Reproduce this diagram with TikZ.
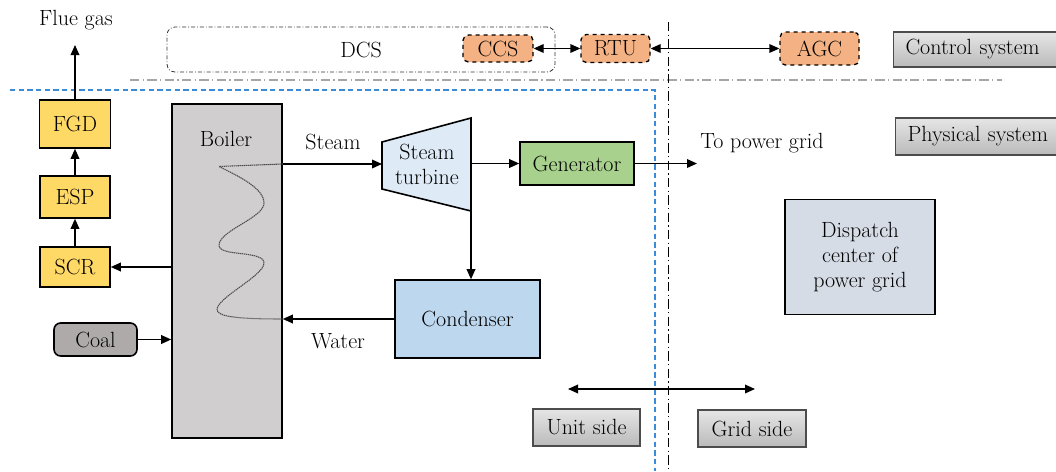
\documentclass[tikz,border=0pt]{standalone}
\usetikzlibrary{arrows.meta}
\definecolor{ylw}{HTML}{FFD966}
\definecolor{boilgray}{HTML}{D0CECE}
\definecolor{turbblue}{HTML}{DEEBF7}
\definecolor{gengreen}{HTML}{A9D18E}
\definecolor{condblue}{HTML}{BDD7EE}
\definecolor{dispgray}{HTML}{D6DCE5}
\definecolor{coalgray}{HTML}{AEAAAA}
\definecolor{orng}{HTML}{F4B183}
\definecolor{sepblue}{HTML}{3A8BD8}
\begin{document}
\begin{tikzpicture}[x=0.75pt,y=-0.75pt,
  font=\fontsize{16.5}{18.7}\selectfont,
  sz/.style 2 args={minimum width=#1*0.75pt, minimum height=#2*0.75pt},
  box/.style={draw=black, line width=1.2pt, inner sep=0pt, align=center},
  ybox/.style={box, fill=ylw},
  ctlbox/.style={draw=black, line width=1pt, dashed, rounded corners=4pt,
    fill=orng, inner sep=0pt},
  tag/.style={draw=black!70, line width=0.8pt, top color=black!10,
    bottom color=black!27, inner sep=0pt},
  arr/.style={line width=1pt, -{Triangle[length=7.5pt,width=6.5pt]}},
  darr/.style={line width=1pt, {Triangle[length=7.5pt,width=6.5pt]}-{Triangle[length=7.5pt,width=6.5pt]}},
  dashdotline/.style={line width=0.6pt, dash pattern=on 7pt off 2.5pt on 1pt off 2.5pt},
  coil/.style={draw=black!70, line width=0.8pt, dash pattern=on 1pt off 0.5pt}]
\useasboundingbox (0,0) rectangle (1056,471);

% system boundaries
\coordinate (sepL) at (130,80);
\coordinate (sepR) at (1002,80);
\draw[dashdotline, black!35, line width=0.8pt] (sepL) -- (sepR);
\coordinate (bA) at (10,90);
\coordinate (bB) at (655,90);
\coordinate (bC) at (655,471);
\draw[sepblue, line width=0.8pt, dash pattern=on 4pt off 2.5pt] (bA) -- (bB) -- (bC);
\coordinate (vT) at (668,22);
\coordinate (vB) at (668,471);
\draw[dashdotline, black] (vT) -- (vB);

% control layer
\node[draw=black!80, line width=0.6pt, rounded corners=6pt,
  dash pattern=on 3pt off 1.5pt on 0.6pt off 1.5pt, sz={388}{45}] (dcs) at (361,49.5) {DCS};
\node[ctlbox, sz={70}{27}] (ccs) at (498,48.5) {CCS};
\node[ctlbox, sz={69}{28}] (rtu) at (615.5,48.5) {RTU};
\node[ctlbox, sz={79}{33}] (agc) at (819.5,48.5) {AGC};
\draw[darr] (ccs) -- (rtu);
\draw[darr] (rtu) -- (agc);

\node[tag, anchor=west, sz={170}{35}, text width=146*0.75pt, align=left,
  inner xsep=12*0.75pt] (ctrl) at (893,49.5) {Control system};
\node[tag, anchor=west, sz={170}{37}, text width=146*0.75pt, align=left,
  inner xsep=11*0.75pt] (phys) at (895,136.5) {Physical system};

% flue gas treatment
\node (flue) at (76,20) {Flue gas};
\coordinate (flueend) at (76,45);
\node[ybox, sz={71}{48}] (fgd) at (75,124) {FGD};
\node[ybox, sz={70}{42}] (esp) at (75,197) {ESP};
\node[ybox, sz={70}{40}] (scr) at (75,267) {SCR};
\draw[arr] (scr) -- (esp);
\draw[arr] (esp) -- (fgd);
\draw[arr] (fgd) -- (fgd |- flueend);

% boiler with heating coil
\node[box, fill=boilgray, sz={110}{334}] (boiler) at (227,271) {};
\node (boilerlbl) at (226,139) {Boiler};
\coordinate (steamin) at (382,164);
\node[box, fill=condblue, sz={145}{78}] (cond) at (467.5,319) {Condenser};
\draw[coil] (boiler.east |- steamin) -- (219,166.5)
  .. controls (238,176) and (264,188) .. (264,203)
  .. controls (264,218) and (220,230) .. (219,245)
  .. controls (218,257) and (264,250) .. (264,263)
  .. controls (264,276) and (216,298) .. (217,310)
  .. controls (218,317) and (240,319) .. (boiler.east |- cond.west);

\node[draw=black, line width=1.2pt, rounded corners=5pt, fill=coalgray,
  sz={83}{33}, inner sep=0pt] (coal) at (95.5,339.5) {Coal};
\draw[arr] (coal) -- (boiler.west |- coal.east);
\draw[arr] (boiler.west |- scr.east) -- (scr);

% steam turbine
\coordinate (tA) at (382,142);
\coordinate (tB) at (471,118);
\coordinate (tC) at (471,211);
\coordinate (tD) at (382,189);
\draw[line width=1.2pt, fill=turbblue] (tA) -- (tB) -- (tC) -- (tD) -- cycle;
\node[align=center] (turb) at (427,164) {Steam\\turbine};

\node (steamlbl) at (333,142) {Steam};
\draw[arr] (boiler.east |- steamin) -- (steamin);

\node[box, fill=gengreen, sz={114}{43}] (gen) at (577,163.5) {Generator};
\coordinate (tout) at (471,163.5);
\draw[arr] (tout) -- (gen);
\coordinate (grid) at (697,163.5);
\draw[arr] (gen) -- (grid);
\node (gridlbl) at (762,143) {To power grid};

\draw[arr] (tC) -- (tC |- cond.north);
\draw[arr] (cond.west) -- (boiler.east |- cond.west);
\node (waterlbl) at (338,341) {Water};

% grid side
\node[box, fill=dispgray, sz={150}{115}, font=\fontsize{16.5}{19}\selectfont] (disp) at (860,257)
  {Dispatch\\center of\\power grid};

\node[tag, sz={107}{37}] (unit) at (586.5,427.5) {Unit side};
\node[tag, sz={108}{37}] (gside) at (752,428.5) {Grid side};
\coordinate (sideL) at (568,389);
\coordinate (sideR) at (755,389);
\draw[darr] (sideL) -- (sideR);
\end{tikzpicture}
\end{document}
